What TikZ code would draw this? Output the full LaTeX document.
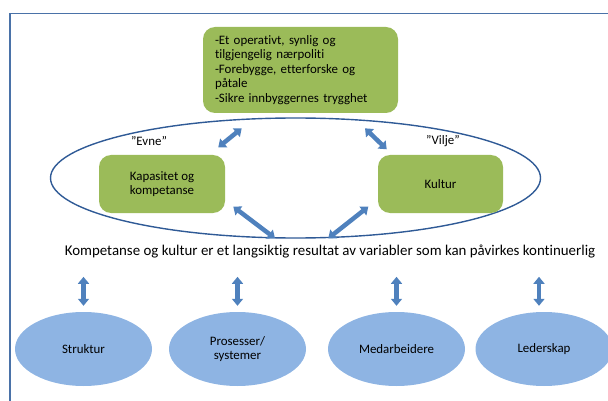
\documentclass[tikz,border=0pt]{standalone}
\usepackage{fontspec}
\setmainfont{Carlito}[Ligatures=NoCommon]
\usepackage{tikz}
\usetikzlibrary{
arrows.meta,
positioning,
shapes.geometric,
calc
}
\definecolor{polgreen}{HTML}{9BBB59}
\definecolor{polblue}{HTML}{4F81BD}
\definecolor{polnavy}{HTML}{2F5A96}
\definecolor{pollight}{HTML}{8EB4E3}
\definecolor{polframe}{HTML}{4A72A8}

\tikzset{
  greenbox/.style={fill=polgreen, rounded corners=12pt, inner sep=0pt,
    font=\fontsize{12.9}{14.6}\selectfont},
  factor/.style={ellipse, fill=pollight, minimum width=137pt, minimum height=74pt,
    inner sep=0pt, align=center, font=\fontsize{12.9}{14.6}\selectfont},
  duo/.style={polblue, line width=4.5pt,
    {Triangle[width=11pt,length=7pt]}-{Triangle[width=11pt,length=7pt]}}
}

\begin{document}
\begin{tikzpicture}[x=1pt, y=-1pt]

\useasboundingbox (0,0) rectangle (608,401);
\clip (0,0) rectangle (608,401);

% Frame
\draw[polframe, line width=1.8pt] (10,420) -- (10,13.5) -- (620,13.5);

% Goal box
\node[greenbox, minimum width=195pt, minimum height=86pt, text width=171pt, align=left]
  (goal) at (300.5,70) {-Et operativt, synlig og\\tilgjengelig nærpoliti\\-Forebygge, etterforske og\\påtale\\-Sikre innbyggernes trygghet};

% Evne / Vilje ring
\node[ellipse, draw=polnavy, line width=1.4pt, minimum width=490pt, minimum height=120pt]
  (ring) at (295.5,178) {};
\node[greenbox, minimum width=126pt, minimum height=58pt, align=center]
  (evne) at (162,184) {Kapasitet og\\kompetanse};
\node[greenbox, minimum width=125pt, minimum height=58pt, align=center]
  (vilje) at (440.5,184) {Kultur};
\node[font=\fontsize{12.9}{14.6}\selectfont] (evnelbl) at (149,141) {”Evne”};
\node[font=\fontsize{12.9}{14.6}\selectfont] (viljelbl) at (443,141) {”Vilje”};

% Arrow ends inside the ring
\coordinate (goalL) at (241.7,128.3);
\coordinate (evneT) at (218.3,147.3);
\coordinate (goalR) at (365,128.3);
\coordinate (viljeT) at (386.7,149.3);
\coordinate (evneB) at (233.3,206.7);
\coordinate (ringL) at (275,238.3);
\coordinate (viljeB) at (368.3,206.7);
\coordinate (ringR) at (328.3,238.3);

\draw[duo] (goalL) -- (evneT);
\draw[duo] (goalR) -- (viljeT);
\draw[duo] (evneB) -- (ringL);
\draw[duo] (viljeB) -- (ringR);

% Summary line
\node[font=\fontsize{14.9}{17}\selectfont] (summary) at (330,252)
  {Kompetanse og kultur er et langsiktig resultat av variabler som kan påvirkes kontinuerlig};

% Variables
\foreach \name/\x/\dx/\label in {struktur/83.5/0/Struktur,
    prosesser/237.5/0/{Prosesser/\\systemer},
    medarb/396.5/0/Medarbeidere,
    leder/544/-5/Lederskap} {
  \node[factor] (\name) at (\x,349) {\label};
  \draw[duo] ([xshift=\dx pt, yshift=6pt]\name.north) -- ([xshift=\dx pt, yshift=35pt]\name.north);
}

\end{tikzpicture}
\end{document}
